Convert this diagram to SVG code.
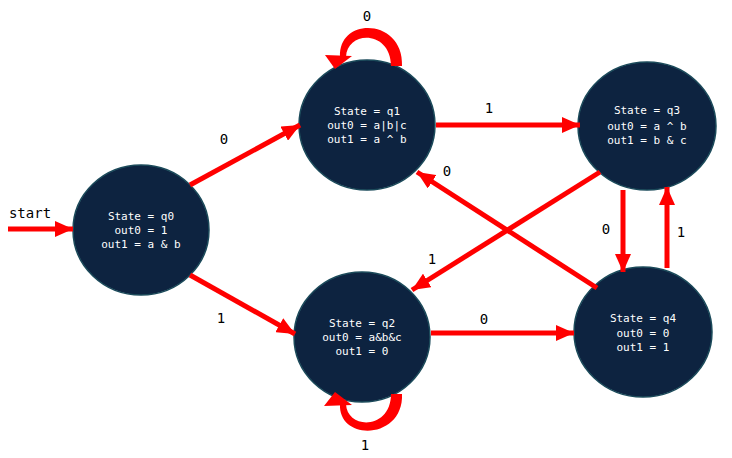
<svg xmlns="http://www.w3.org/2000/svg" width="732" height="458" viewBox="0 0 732 458">
<style>
.node{fill:#0d2340;stroke:#1b4a5a;stroke-width:1.5}
.nt{fill:#ffffff;font-family:"DejaVu Sans Mono","Liberation Mono",monospace;font-size:11px;text-anchor:middle}
.lbl{fill:#000000;font-family:"DejaVu Sans Mono","Liberation Mono",monospace;font-size:14px;text-anchor:middle}
.edge{stroke:#ff0000;stroke-width:5;fill:none;marker-end:url(#ah)}
.loop{fill:#ff0000;stroke:none}
</style>
<defs>
<marker id="ah" markerUnits="userSpaceOnUse" markerWidth="20" markerHeight="16" refX="18" refY="8" orient="auto">
<path d="M0,0 L18,8 L0,16 z" fill="#ff0000"/>
</marker>
</defs>
<rect width="732" height="458" fill="#ffffff"/>
<g id="q0">
<ellipse class="node" cx="141" cy="230" rx="68" ry="65"/>
<text class="nt" x="141" y="220">State = q0</text>
<text class="nt" x="141" y="234">out0 = 1</text>
<text class="nt" x="141" y="248">out1 = a &amp; b</text>
</g>
<g id="q1">
<ellipse class="node" cx="367" cy="125" rx="68" ry="65"/>
<text class="nt" x="367" y="115">State = q1</text>
<text class="nt" x="367" y="129">out0 = a|b|c</text>
<text class="nt" x="367" y="143">out1 = a ^ b</text>
</g>
<g id="q2">
<ellipse class="node" cx="362" cy="337" rx="68" ry="65"/>
<text class="nt" x="362" y="327">State = q2</text>
<text class="nt" x="362" y="341">out0 = a&amp;b&amp;c</text>
<text class="nt" x="362" y="355">out1 = 0</text>
</g>
<g id="q3">
<ellipse class="node" cx="647" cy="126" rx="69" ry="64"/>
<text class="nt" x="647" y="114">State = q3</text>
<text class="nt" x="647" y="130">out0 = a ^ b</text>
<text class="nt" x="647" y="144">out1 = b &amp; c</text>
</g>
<g id="q4">
<ellipse class="node" cx="643" cy="332" rx="69" ry="65"/>
<text class="nt" x="643" y="322">State = q4</text>
<text class="nt" x="643" y="337">out0 = 0</text>
<text class="nt" x="643" y="351">out1 = 1</text>
</g>
<g id="connectors">
<line class="edge" x1="8" y1="229" x2="73" y2="229"/>
<line class="edge" x1="190" y1="185" x2="300" y2="125"/>
<line class="edge" x1="190" y1="275" x2="295" y2="334"/>
<line class="edge" x1="436" y1="125" x2="580" y2="125"/>
<line class="edge" x1="600" y1="172" x2="412" y2="290"/>
<line class="edge" x1="597" y1="288" x2="417" y2="172"/>
<line class="edge" x1="431" y1="333" x2="574" y2="333"/>
<line class="edge" x1="623" y1="190" x2="623" y2="272"/>
<line class="edge" x1="667" y1="268" x2="667" y2="187"/>
<path class="loop" d="M402,66 C404,18 338,16 340,57 L346,57 C347,30 391,30 391,66 Z"/>
<path class="loop" d="M325,55 L352,56 L335,69 Z"/>
<path class="loop" d="M402,394 C404,440 338,442 340,404 L346,404 C347,430 391,430 391,394 Z"/>
<path class="loop" d="M324,406 L352,405 L335,392 Z"/>
<text class="lbl" x="30" y="218">start</text>
<text class="lbl" x="224" y="144">0</text>
<text class="lbl" x="221" y="323">1</text>
<text class="lbl" x="489" y="113">1</text>
<text class="lbl" x="447" y="176">0</text>
<text class="lbl" x="432" y="264">1</text>
<text class="lbl" x="484" y="324">0</text>
<text class="lbl" x="606" y="234">0</text>
<text class="lbl" x="681" y="237">1</text>
<text class="lbl" x="367" y="21">0</text>
<text class="lbl" x="365" y="450">1</text>
</g>
</svg>
